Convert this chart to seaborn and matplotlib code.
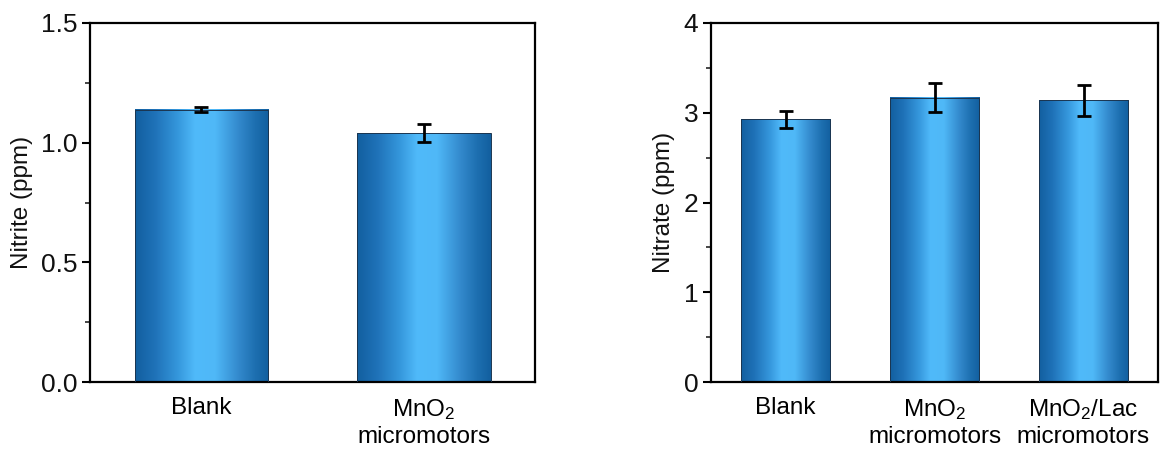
import numpy as np
import pandas as pd
import matplotlib
matplotlib.use("Agg")
import matplotlib.pyplot as plt
import seaborn as sns
from matplotlib.colors import LinearSegmentedColormap
from matplotlib.ticker import MultipleLocator

# ---- data ----
nitrite_labels = ["Blank", "MnO$_2$\nmicromotors"]
nitrite_values = [1.137, 1.039]
nitrite_errors = [0.010, 0.037]

nitrate_labels = ["Blank", "MnO$_2$\nmicromotors", "MnO$_2$/Lac\nmicromotors"]
nitrate_values = [2.925, 3.168, 3.138]
nitrate_errors = [0.09, 0.16, 0.17]

sns.set_theme(style="ticks")
plt.rcParams["font.family"] = ["Liberation Sans", "DejaVu Sans"]
plt.rcParams["mathtext.fontset"] = "custom"
plt.rcParams["mathtext.rm"] = "Liberation Sans"
plt.rcParams["mathtext.it"] = "Liberation Sans:italic"
plt.rcParams["mathtext.bf"] = "Liberation Sans:bold"

grad = LinearSegmentedColormap.from_list(
    "bargrad",
    [(0.0, "#125f9f"), (0.15, "#1f72b8"), (0.32, "#3597dc"),
     (0.45, "#50bafa"), (0.6, "#4fb8f7"), (0.78, "#3288cb"),
     (0.9, "#1d6fb0"), (1.0, "#125f9f")])
gradient = np.linspace(0, 1, 256).reshape(1, -1)

fig = plt.figure(figsize=(11.71, 4.5), dpi=100)
W, H = 1171, 450
ax1 = fig.add_axes([90 / W, 1 - 382 / H, 445 / W, 359 / H])
ax2 = fig.add_axes([711 / W, 1 - 382 / H, 447 / W, 359 / H])


def draw(ax, labels, values, errors, ymax, major, minor, ylabel, fmt):
    df = pd.DataFrame({"cat": labels, "val": values})
    sns.barplot(data=df, x="cat", y="val", ax=ax, width=0.6,
                color="#3a9be0", edgecolor="#1b3550", linewidth=0.7,
                errorbar=None, zorder=2)
    for p in list(ax.patches):
        x0, y0 = p.get_x(), p.get_y()
        w, h = p.get_width(), p.get_height()
        ax.imshow(gradient, cmap=grad, aspect="auto",
                  extent=[x0, x0 + w, y0, y0 + h], zorder=2.5,
                  interpolation="bilinear")
        p.set_facecolor("none")
        p.set_zorder(3)
    ax.errorbar(range(len(values)), values, yerr=errors, fmt="none",
                ecolor="black", elinewidth=2, capsize=5, capthick=2,
                zorder=4)
    ax.set_xlim(-0.5, len(values) - 0.5)
    ax.set_ylim(0, ymax)
    ax.yaxis.set_major_locator(MultipleLocator(major))
    ax.yaxis.set_minor_locator(MultipleLocator(minor))
    ax.yaxis.set_major_formatter(plt.FormatStrFormatter(fmt))
    ax.set_xlabel("")
    ax.set_ylabel(ylabel, fontsize=17.5, labelpad=6, color="#111111")
    for s in ax.spines.values():
        s.set_visible(True)
        s.set_linewidth(1.6)
        s.set_color("black")
    ax.tick_params(axis="y", which="major", direction="out", length=6,
                   width=1.5, labelsize=19, pad=3, colors="black")
    ax.tick_params(axis="y", which="minor", direction="out", length=3.5,
                   width=1.2)
    ax.tick_params(axis="x", length=0, labelsize=17.5, pad=11,
                   colors="black")
    ax.tick_params(axis="y", right=False, which="both")
    ax.tick_params(axis="y", labelcolor="#111111")


draw(ax1, nitrite_labels, nitrite_values, nitrite_errors, 1.5, 0.5, 0.25,
     "Nitrite (ppm)", "%.1f")
draw(ax2, nitrate_labels, nitrate_values, nitrate_errors, 4, 1, 0.5,
     "Nitrate (ppm)", "%d")

fig.savefig("out.png", dpi=100)
